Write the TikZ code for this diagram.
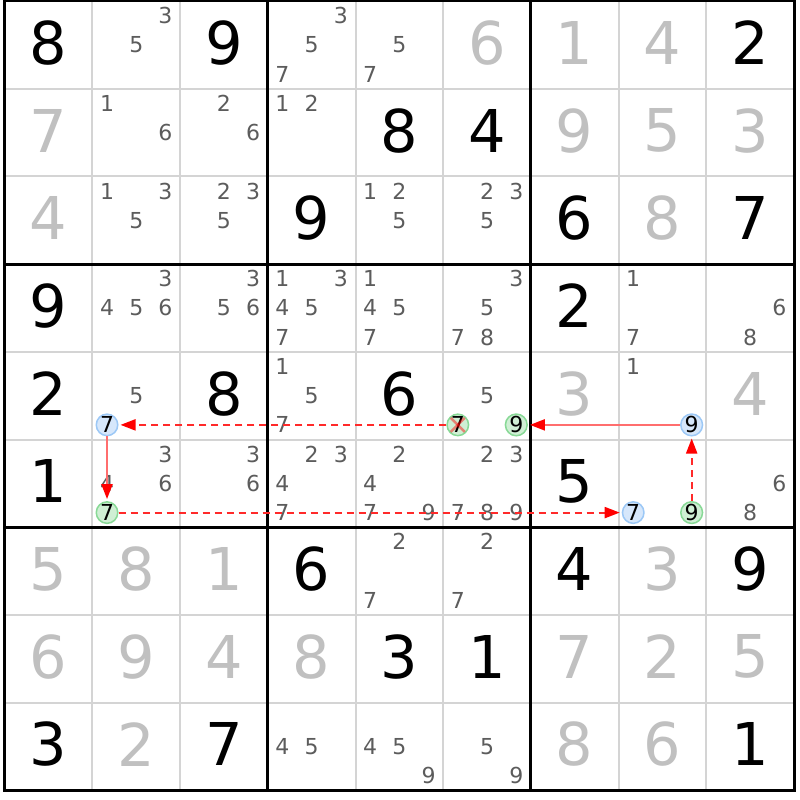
\documentclass[tikz,border=0pt]{standalone}
\usepackage{fontspec}
\setmainfont{DejaVu Sans}
\usetikzlibrary{arrows.meta}
\definecolor{solvedc}{HTML}{C0C0C0}
\definecolor{candc}{HTML}{5C5C5C}
\definecolor{thinc}{HTML}{D4D4D4}
\definecolor{bluefill}{HTML}{D6E7FB}
\definecolor{bluedraw}{HTML}{9CC8F6}
\definecolor{greenfill}{HTML}{CFEFD4}
\definecolor{greendraw}{HTML}{88D996}
\definecolor{linkred}{HTML}{FF2A2A}
\definecolor{strongred}{HTML}{FF6E6E}
\tikzset{
  given/.style={inner sep=0pt, font=\fontsize{59}{60}\selectfont, text=black},
  solved/.style={given, text=solvedc},
  cand/.style={inner sep=0pt, font=\fontsize{22}{23}\selectfont, text=candc},
  hl/.style={circle, inner sep=0pt, minimum size=21.5pt, line width=1.5pt, font=\fontsize{22}{23}\selectfont, text=black},
  hlblue/.style={hl, draw=bluedraw, fill=bluefill},
  hlgreen/.style={hl, draw=greendraw, fill=greenfill},
  thinline/.style={draw=thinc, line width=2pt},
  boxline/.style={draw=black, line width=3pt},
  stronglink/.style={draw=strongred, line width=2pt, -{Triangle[length=15pt,width=11pt,color=red]}, shorten >=2pt},
  weaklink/.style={draw=linkred, line width=2pt, dash pattern=on 7pt off 5pt, -{Triangle[length=15pt,width=11pt,color=red]}, shorten >=2pt},
  xmark/.style={draw=red, opacity=0.45, line width=2.5pt},
}
\newcommand\putdig[4]{\node[#4] (d#1#2) at ({4.7+(#2-0.5)*87.7},{1+(#1-0.5)*87.7-2}) {#3};}
\newcommand\putcands[3]{\foreach \dg in {#3}{%
  \pgfmathtruncatemacro\sc{mod(\dg-1,3)}%
  \pgfmathtruncatemacro\sr{(\dg-1)/3}%
  \node[cand] (c#1#2\dg) at ({4.7+(#2-1)*87.7+(\sc+0.5)*29.2333},{1+(#1-1)*87.7+(\sr+0.5)*29.2333}) {\dg};}}
\newcommand\hlcand[4]{\node[#4] (h#1#2#3) at (c#1#2#3) {#3};}
\begin{document}
\begin{tikzpicture}[x=1pt,y=-1pt]
\useasboundingbox (0,0) rectangle (800,800);
\fill[white] (0,0) rectangle (800,800);
% grid
\foreach \i in {1,2,4,5,7,8}{
  \draw[thinline] ({4.7+\i*87.7},1) -- ({4.7+\i*87.7},790.3);
  \draw[thinline] (4.7,{1+\i*87.7}) -- (794,{1+\i*87.7});
}
\foreach \i in {3,6}{
  \draw[boxline] ({4.7+\i*87.7},1) -- ({4.7+\i*87.7},790.3);
  \draw[boxline] (4.7,{1+\i*87.7}) -- (794,{1+\i*87.7});
}
\draw[boxline] (4.7,1) rectangle (794,790.3);
% row 1
\putdig{1}{1}{8}{given}\putdig{1}{3}{9}{given}\putdig{1}{6}{6}{solved}\putdig{1}{7}{1}{solved}\putdig{1}{8}{4}{solved}\putdig{1}{9}{2}{given}
% row 2
\putdig{2}{1}{7}{solved}\putdig{2}{5}{8}{given}\putdig{2}{6}{4}{given}\putdig{2}{7}{9}{solved}\putdig{2}{8}{5}{solved}\putdig{2}{9}{3}{solved}
% row 3
\putdig{3}{1}{4}{solved}\putdig{3}{4}{9}{given}\putdig{3}{7}{6}{given}\putdig{3}{8}{8}{solved}\putdig{3}{9}{7}{given}
% row 4
\putdig{4}{1}{9}{given}\putdig{4}{7}{2}{given}
% row 5
\putdig{5}{1}{2}{given}\putdig{5}{3}{8}{given}\putdig{5}{5}{6}{given}\putdig{5}{7}{3}{solved}\putdig{5}{9}{4}{solved}
% row 6
\putdig{6}{1}{1}{given}\putdig{6}{7}{5}{given}
% row 7
\putdig{7}{1}{5}{solved}\putdig{7}{2}{8}{solved}\putdig{7}{3}{1}{solved}\putdig{7}{4}{6}{given}\putdig{7}{7}{4}{given}\putdig{7}{8}{3}{solved}\putdig{7}{9}{9}{given}
% row 8
\putdig{8}{1}{6}{solved}\putdig{8}{2}{9}{solved}\putdig{8}{3}{4}{solved}\putdig{8}{4}{8}{solved}\putdig{8}{5}{3}{given}\putdig{8}{6}{1}{given}\putdig{8}{7}{7}{solved}\putdig{8}{8}{2}{solved}\putdig{8}{9}{5}{solved}
% row 9
\putdig{9}{1}{3}{given}\putdig{9}{2}{2}{solved}\putdig{9}{3}{7}{given}\putdig{9}{7}{8}{solved}\putdig{9}{8}{6}{solved}\putdig{9}{9}{1}{given}
% candidates
\putcands{1}{2}{3,5}\putcands{1}{4}{3,5,7}\putcands{1}{5}{5,7}
\putcands{2}{2}{1,6}\putcands{2}{3}{2,6}\putcands{2}{4}{1,2}
\putcands{3}{2}{1,3,5}\putcands{3}{3}{2,3,5}\putcands{3}{5}{1,2,5}\putcands{3}{6}{2,3,5}
\putcands{4}{2}{3,4,5,6}\putcands{4}{3}{3,5,6}\putcands{4}{4}{1,3,4,5,7}\putcands{4}{5}{1,4,5,7}\putcands{4}{6}{3,5,7,8}\putcands{4}{8}{1,7}\putcands{4}{9}{6,8}
\putcands{5}{2}{5,7}\putcands{5}{4}{1,5,7}\putcands{5}{6}{5,7,9}\putcands{5}{8}{1,9}
\putcands{6}{2}{3,4,6,7}\putcands{6}{3}{3,6}\putcands{6}{4}{2,3,4,7}\putcands{6}{5}{2,4,7,9}\putcands{6}{6}{2,3,7,8,9}\putcands{6}{8}{7,9}\putcands{6}{9}{6,8}
\putcands{7}{5}{2,7}\putcands{7}{6}{2,7}
\putcands{9}{4}{4,5}\putcands{9}{5}{4,5,9}\putcands{9}{6}{5,9}
% highlighted candidates
\hlcand{5}{2}{7}{hlblue}
\hlcand{6}{2}{7}{hlgreen}
\hlcand{5}{6}{7}{hlgreen}
\hlcand{5}{6}{9}{hlgreen}
\hlcand{5}{8}{9}{hlblue}
\hlcand{6}{8}{7}{hlblue}
\hlcand{6}{8}{9}{hlgreen}
% elimination mark
\draw[xmark] ([shift={(-7,-7)}]h567.center) -- ([shift={(7,7)}]h567.center);
\draw[xmark] ([shift={(-7,7)}]h567.center) -- ([shift={(7,-7)}]h567.center);
% links
\draw[stronglink] (h589) -- (h569);
\draw[weaklink] (h689) -- (h589);
\draw[weaklink] (h627) -- (h687);
\draw[stronglink] (h527) -- (h627);
\draw[weaklink] (h567) -- (h527);
\end{tikzpicture}
\end{document}
